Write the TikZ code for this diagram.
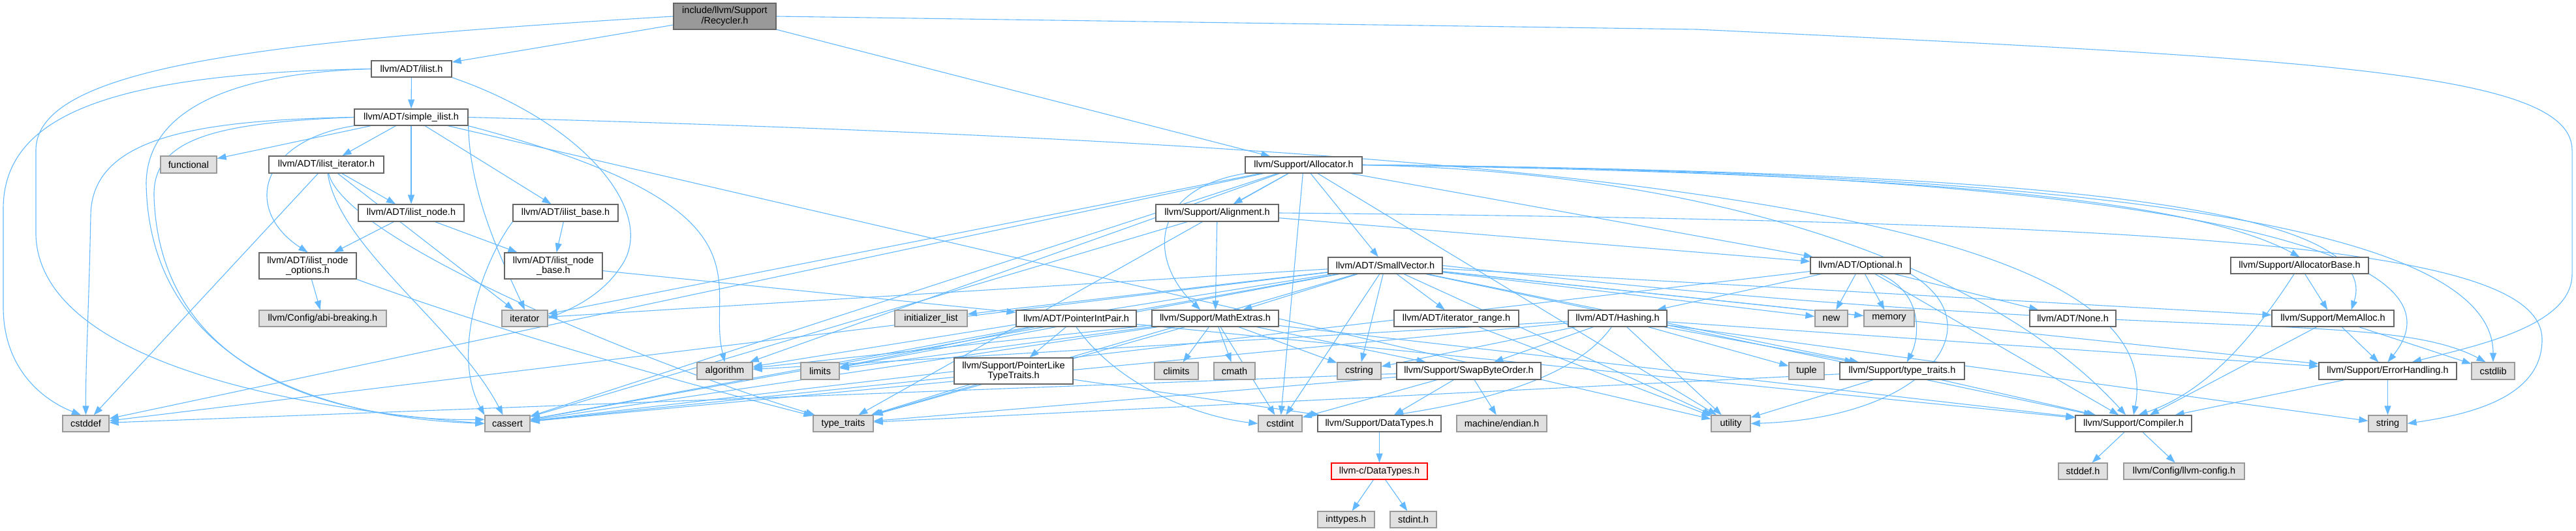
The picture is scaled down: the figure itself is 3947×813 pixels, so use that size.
\documentclass[tikz,border=0pt]{standalone}
\usepackage{fontspec}
\setmainfont{Liberation Sans}
\usetikzlibrary{arrows.meta,backgrounds}
\definecolor{DGEdge}{HTML}{63B8FF}
\definecolor{DGFrame}{HTML}{666666}
\definecolor{DGSysFrame}{HTML}{999999}
\definecolor{DGSysFill}{HTML}{E0E0E0}
\definecolor{DGRoot}{HTML}{999999}
\definecolor{DGRed}{HTML}{FF0000}
\definecolor{DGRedFill}{HTML}{FFF0F0}

\tikzset{
  hdr/.style={draw=DGFrame,fill=white,line width=1.3pt,inner sep=0pt,align=center,
    font=\fontsize{14.5}{15.5}\selectfont},
  sys/.style={hdr,draw=DGSysFrame,fill=DGSysFill},
  dep/.style={draw=DGEdge,line width=1.1pt,-{Triangle[length=14pt,width=10pt]}},
}

\begin{document}
\begin{tikzpicture}[x=1pt,y=1pt]
\path[use as bounding box] (0,-813) rectangle (3947,0);
% headers of the project
\node[hdr,fill=DGRoot,minimum width=157pt,minimum height=40pt] (rec) at (1110.5,-25) {include/llvm/Support\\/Recycler.h};
\node[hdr,minimum width=123pt,minimum height=25pt] (ilist) at (630.5,-105.5) {llvm/ADT/ilist.h};
\node[hdr,minimum width=174pt,minimum height=25pt] (sil) at (630,-179.5) {llvm/ADT/simple\_ilist.h};
\node[hdr,minimum width=176pt,minimum height=26pt] (iit) at (500,-252) {llvm/ADT/ilist\_iterator.h};
\node[hdr,minimum width=162pt,minimum height=26pt] (inode) at (630,-326) {llvm/ADT/ilist\_node.h};
\node[hdr,minimum width=161pt,minimum height=26pt] (ibase) at (866.5,-326) {llvm/ADT/ilist\_base.h};
\node[hdr,minimum width=149pt,minimum height=40pt] (iopt) at (471.5,-407) {llvm/ADT/ilist\_node\\\_options.h};
\node[hdr,minimum width=150pt,minimum height=40pt] (inb) at (848,-407) {llvm/ADT/ilist\_node\\\_base.h};
\node[hdr,minimum width=179pt,minimum height=25pt] (alloc) at (1997.5,-252.5) {llvm/Support/Allocator.h};
\node[hdr,minimum width=188pt,minimum height=26pt] (align) at (1865,-326) {llvm/Support/Alignment.h};
\node[hdr,minimum width=175pt,minimum height=25pt] (svec) at (2122.5,-406.5) {llvm/ADT/SmallVector.h};
\node[hdr,minimum width=153pt,minimum height=25pt] (opt) at (2850.5,-406.5) {llvm/ADT/Optional.h};
\node[hdr,minimum width=211pt,minimum height=25pt] (abase) at (3523.5,-406.5) {llvm/Support/AllocatorBase.h};
\node[hdr,minimum width=184pt,minimum height=25pt] (pip) at (1649,-487.5) {llvm/ADT/PointerIntPair.h};
\node[hdr,minimum width=194pt,minimum height=25pt] (mext) at (1862,-487.5) {llvm/Support/MathExtras.h};
\node[hdr,minimum width=191pt,minimum height=25pt] (itr) at (2231.5,-487.5) {llvm/ADT/iterator\_range.h};
\node[hdr,minimum width=151pt,minimum height=25pt] (hash) at (2478.5,-487.5) {llvm/ADT/Hashing.h};
\node[hdr,minimum width=132pt,minimum height=25pt] (none) at (3176,-487.5) {llvm/ADT/None.h};
\node[hdr,minimum width=187pt,minimum height=25pt] (malloc) at (3574.5,-487.5) {llvm/Support/MemAlloc.h};
\node[hdr,minimum width=182pt,minimum height=40pt] (pltt) at (1553,-568) {llvm/Support/PointerLike\\TypeTraits.h};
\node[hdr,minimum width=221pt,minimum height=26pt] (swap) at (2250.5,-568) {llvm/Support/SwapByteOrder.h};
\node[hdr,minimum width=191pt,minimum height=26pt] (stt) at (2914.5,-568) {llvm/Support/type\_traits.h};
\node[hdr,minimum width=211pt,minimum height=26pt] (err) at (3658.5,-568) {llvm/Support/ErrorHandling.h};
\node[hdr,minimum width=189pt,minimum height=25pt] (sdt) at (2113.5,-648.5) {llvm/Support/DataTypes.h};
\node[hdr,minimum width=178pt,minimum height=25pt] (comp) at (3269,-648.5) {llvm/Support/Compiler.h};
\node[hdr,draw=DGRed,fill=DGRedFill,minimum width=147pt,minimum height=25pt] (cdt) at (2113.5,-721.5) {llvm-c/DataTypes.h};
% system headers
\node[sys,minimum width=86pt,minimum height=26pt] (func) at (289,-252) {functional};
\node[sys,minimum width=195pt,minimum height=25pt] (abi) at (494.5,-487.5) {llvm/Config/abi-breaking.h};
\node[sys,minimum width=70pt,minimum height=25pt] (iter) at (804,-487.5) {iterator};
\node[sys,minimum width=111pt,minimum height=25pt] (initl) at (1426.5,-487.5) {initializer\_list};
\node[sys,minimum width=50pt,minimum height=25pt] (new) at (2806,-487.5) {new};
\node[sys,minimum width=77pt,minimum height=25pt] (memory) at (2894.5,-487.5) {memory};
\node[sys,minimum width=85pt,minimum height=26pt] (algo) at (1110.5,-568) {algorithm};
\node[sys,minimum width=59pt,minimum height=26pt] (limits) at (1256.5,-568) {limits};
\node[sys,minimum width=67pt,minimum height=26pt] (climits) at (1802.5,-568) {climits};
\node[sys,minimum width=63pt,minimum height=26pt] (cmath) at (1891.5,-568) {cmath};
\node[sys,minimum width=67pt,minimum height=26pt] (cstring) at (2082.5,-568) {cstring};
\node[sys,minimum width=54pt,minimum height=26pt] (tuple) at (2768,-568) {tuple};
\node[sys,minimum width=66pt,minimum height=26pt] (cstdlib) at (3820,-568) {cstdlib};
\node[sys,minimum width=71pt,minimum height=25pt] (cstddef) at (131.5,-648.5) {cstddef};
\node[sys,minimum width=69pt,minimum height=25pt] (cassert) at (777.5,-648.5) {cassert};
\node[sys,minimum width=92pt,minimum height=25pt] (tt) at (1292,-648.5) {type\_traits};
\node[sys,minimum width=67pt,minimum height=25pt] (cstdint) at (1961.5,-648.5) {cstdint};
\node[sys,minimum width=138pt,minimum height=25pt] (endian) at (2301,-648.5) {machine/endian.h};
\node[sys,minimum width=60pt,minimum height=25pt] (utility) at (2652,-648.5) {utility};
\node[sys,minimum width=59pt,minimum height=25pt] (string) at (3658.5,-648.5) {string};
\node[sys,minimum width=75pt,minimum height=25pt] (stddefh) at (3191.5,-721.5) {stddef.h};
\node[sys,minimum width=185pt,minimum height=25pt] (cfg) at (3346.5,-721.5) {llvm/Config/llvm-config.h};
\node[sys,minimum width=87pt,minimum height=25pt] (inttypes) at (2062.5,-795.5) {inttypes.h};
\node[sys,minimum width=71pt,minimum height=25pt] (stdinth) at (2165.5,-795.5) {stdint.h};

\begin{pgfonlayer}{background}
% Recycler.h
\draw[dep] (rec) -- (ilist);
\draw[dep] (rec) -- (alloc);
\draw[dep] (rec.west) .. controls (420,-62) and (55,-100) .. (55,-230) -- (55,-360) .. controls (60,-520) and (330,-615) .. (cassert.west);
\draw[dep] (rec.east) -- (2600,-45) .. controls (3550,-90) and (3941,-110) .. (3941,-230) -- (3941,-420) .. controls (3941,-500) and (3790,-530) .. (err.20);
% ilist.h
\draw[dep] (ilist) -- (sil);
\draw[dep] (ilist.west) .. controls (160,-112) and (5,-180) .. (5,-320) -- (5,-470) .. controls (5,-560) and (60,-610) .. (cstddef.120);
\draw[dep] (ilist.west) .. controls (350,-112) and (226,-170) .. (224,-280) .. controls (228,-560) and (500,-640) .. (cassert.west);
\draw[dep] (ilist.south east) .. controls (900,-190) and (1010,-330) .. (950,-410) .. controls (920,-455) and (870,-475) .. (iter.east);
% simple_ilist.h
\draw[dep] (sil) -- (func);
\draw[dep] (sil) -- (iit);
\draw[dep] (sil) -- (inode);
\draw[dep] (sil) -- (ibase);
\draw[dep] (sil.south west) .. controls (400,-215) and (370,-320) .. (iopt.north);
\draw[dep] (sil.west) .. controls (300,-184) and (140,-210) .. (139,-330) .. controls (136,-480) and (131,-560) .. (cstddef.north);
\draw[dep] (sil.west) .. controls (330,-188) and (234,-212) .. (236,-300) .. controls (244,-575) and (520,-645) .. (cassert.170);
\draw[dep] (sil.south east) .. controls (720,-300) and (770,-400) .. (iter.north);
\draw[dep] (sil.south east) .. controls (1200,-320) and (1080,-430) .. (algo.north);
\draw[dep] (sil) -- (utility);
\draw[dep] (sil.east) .. controls (2400,-225) and (3330,-320) .. (comp.north);
% ilist_iterator.h
\draw[dep] (iit) -- (inode);
\draw[dep] (iit) -- (iter);
\draw[dep] (iit) -- (cstddef);
\draw[dep] (iit) .. controls (520,-380) and (700,-500) .. (cassert);
\draw[dep] (iit) .. controls (530,-370) and (1000,-560) .. (tt);
% ilist_node.h, ilist_node_options.h, ilist_base.h, ilist_node_base.h
\draw[dep] (inode) -- (inb);
\draw[dep] (inode) -- (iopt);
\draw[dep] (iopt) -- (abi);
\draw[dep] (iopt.south east) .. controls (800,-520) and (1100,-600) .. (tt);
\draw[dep] (ibase) -- (inb);
\draw[dep] (ibase.south west) .. controls (740,-400) and (690,-540) .. (cassert.north west);
\draw[dep] (inb) -- (pip);
% Allocator.h
\draw[dep] (alloc) -- (align);
\draw[dep] (alloc) -- (svec);
\draw[dep] (alloc) -- (opt);
\draw[dep] (alloc.east) .. controls (2900,-265) and (3350,-300) .. (abase.north);
\draw[dep] (alloc.east) .. controls (3000,-262) and (3660,-300) .. (malloc.25);
\draw[dep] (alloc.east) .. controls (3300,-262) and (3800,-380) .. (err.north);
\draw[dep] (alloc.east) .. controls (3300,-262) and (3820,-360) .. (cstdlib.north);
\draw[dep] (alloc.east) .. controls (2700,-265) and (3080,-440) .. (comp);
\draw[dep] (alloc.south west) .. controls (1760,-290) and (1760,-400) .. (mext.150);
\draw[dep] (alloc) -- (algo);
\draw[dep] (alloc) -- (cassert);
\draw[dep] (alloc) -- (cstddef);
\draw[dep] (alloc) -- (iter);
\draw[dep] (alloc) -- (tt);
\draw[dep] (alloc) -- (cstdint);
\draw[dep] (alloc) -- (utility);
% Alignment.h
\draw[dep] (align) -- (mext);
\draw[dep] (align) -- (opt);
\draw[dep] (align) -- (cassert);
\draw[dep] (align.east) .. controls (3400,-340) and (3895,-380) .. (3895,-520) .. controls (3895,-610) and (3780,-635) .. (string.east);
% SmallVector.h
\draw[dep] (svec) -- (itr);
\draw[dep] (svec) -- (cstring);
\draw[dep] (svec) -- (mext);
\draw[dep] (svec) -- (initl);
\draw[dep] (svec) -- (iter);
\draw[dep] (svec) -- (limits);
\draw[dep] (svec) -- (algo);
\draw[dep] (svec) -- (cassert);
\draw[dep] (svec) -- (cstddef);
\draw[dep] (svec) -- (tt);
\draw[dep] (svec) -- (cstdint);
\draw[dep] (svec) -- (new);
\draw[dep] (svec) -- (memory);
\draw[dep] (svec) -- (utility);
\draw[dep] (svec) -- (stt);
\draw[dep] (svec) -- (malloc);
\draw[dep] (svec) -- (err);
\draw[dep] (svec.east) .. controls (3300,-530) and (3650,-470) .. (cstdlib.130);
\draw[dep] (svec) -- (comp);
% Optional.h
\draw[dep] (opt) -- (none);
\draw[dep] (opt) -- (new);
\draw[dep] (opt) -- (memory);
\draw[dep] (opt) -- (hash);
\draw[dep] (opt) .. controls (2950,-450) and (2940,-520) .. (stt);
\draw[dep] (opt) -- (comp);
\draw[dep] (opt.south east) .. controls (3060,-500) and (2950,-640) .. (utility.east);
\draw[dep] (opt) -- (cassert);
% MathExtras.h
\draw[dep] (mext) -- (climits);
\draw[dep] (mext) -- (cmath);
\draw[dep] (mext) -- (cstdint);
\draw[dep] (mext) -- (algo);
\draw[dep] (mext) -- (limits);
\draw[dep] (mext) -- (cassert);
\draw[dep] (mext) -- (tt);
\draw[dep] (mext) -- (cstring);
\draw[dep] (mext) -- (swap);
\draw[dep] (mext) -- (comp);
% PointerIntPair.h, PointerLikeTypeTraits.h
\draw[dep] (pip) -- (pltt);
\draw[dep] (pip.south) .. controls (1720,-600) and (1850,-640) .. (cstdint.west);
\draw[dep] (pip) -- (cassert);
\draw[dep] (pip) -- (limits);
\draw[dep] (pip) -- (comp);
\draw[dep] (pltt) -- (tt);
\draw[dep] (pltt) -- (cassert);
\draw[dep] (pltt) -- (sdt);
% iterator_range.h, Hashing.h
\draw[dep] (itr) -- (utility);
\draw[dep] (hash) -- (swap);
\draw[dep] (hash) -- (cstring);
\draw[dep] (hash) .. controls (2420,-570) and (2300,-610) .. (sdt.30);
\draw[dep] (hash) -- (algo);
\draw[dep] (hash) -- (cassert);
\draw[dep] (hash) -- (tuple);
\draw[dep] (hash) -- (utility);
\draw[dep] (hash) -- (stt);
\draw[dep] (hash) -- (err);
\draw[dep] (hash) -- (string);
% SwapByteOrder.h, DataTypes.h
\draw[dep] (swap) -- (endian);
\draw[dep] (swap) -- (sdt);
\draw[dep] (swap) -- (cstdint);
\draw[dep] (swap) -- (tt);
\draw[dep] (swap) -- (cstddef);
\draw[dep] (sdt) -- (cdt);
\draw[dep] (cdt) -- (inttypes);
\draw[dep] (cdt) -- (stdinth);
% type_traits.h
\draw[dep] (stt) -- (comp);
\draw[dep] (stt) -- (utility);
\draw[dep] (stt) -- (tt);
% AllocatorBase.h, MemAlloc.h, ErrorHandling.h, Compiler.h
\draw[dep] (abase) -- (malloc);
\draw[dep] (abase) .. controls (3450,-520) and (3380,-600) .. (comp.60);
\draw[dep] (malloc) -- (err);
\draw[dep] (malloc) -- (cstdlib);
\draw[dep] (malloc) -- (comp);
\draw[dep] (err) -- (comp);
\draw[dep] (err) -- (string);
\draw[dep] (comp) -- (cfg);
\draw[dep] (comp) -- (stddefh);
\end{pgfonlayer}
\end{tikzpicture}
\end{document}
